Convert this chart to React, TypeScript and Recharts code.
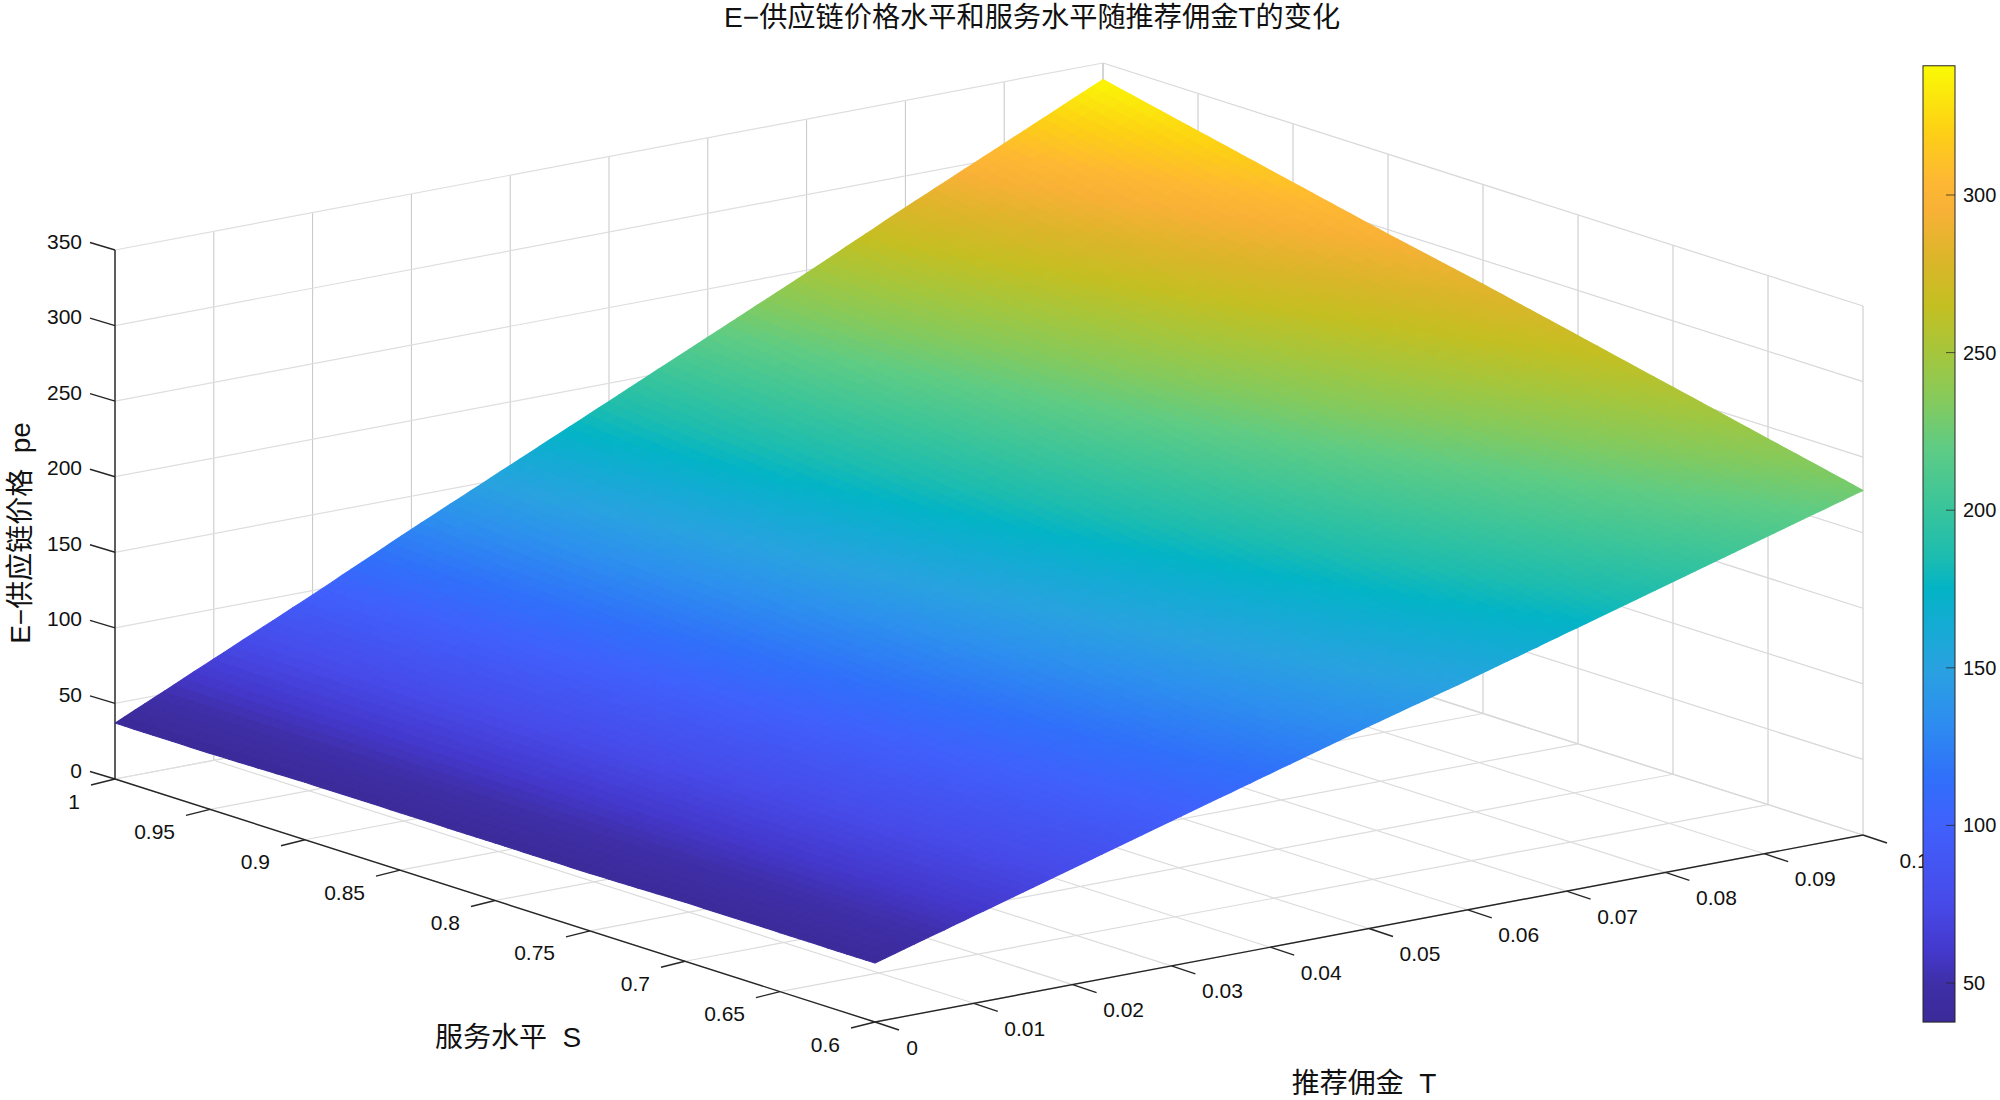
import React from "react";
import { ScatterChart, Scatter, XAxis, YAxis } from "recharts";

const tValues = [0, 0.01, 0.02, 0.03, 0.04, 0.05, 0.06, 0.07, 0.08, 0.09, 0.1];
const sValues = [0.6, 0.65, 0.7, 0.75, 0.8, 0.85, 0.9, 0.95, 1];
const zValues = [0, 50, 100, 150, 200, 250, 300, 350];
const tLabels = ["0", "0.01", "0.02", "0.03", "0.04", "0.05", "0.06", "0.07", "0.08", "0.09", "0.1"];
const sLabels = ["0.6", "0.65", "0.7", "0.75", "0.8", "0.85", "0.9", "0.95", "1"];
const barTicks = [50, 100, 150, 200, 250, 300];

// pe, one row per S, one column per T
const peS060 = [39, 58, 77, 96, 115, 134, 152, 171, 190, 209, 228];
const peS065 = [39, 59, 79, 100, 120, 140, 161, 181, 201, 222, 242];
const peS070 = [39, 60, 82, 104, 125, 147, 169, 191, 212, 234, 256];
const peS075 = [38, 61, 84, 108, 131, 154, 177, 200, 224, 247, 270];
const peS080 = [38, 63, 87, 112, 136, 161, 186, 210, 235, 259, 284];
const peS085 = [38, 64, 90, 116, 142, 168, 194, 220, 246, 271, 297];
const peS090 = [38, 65, 92, 120, 147, 175, 202, 229, 256, 284, 311];
const peS095 = [37, 66, 95, 123, 152, 181, 210, 239, 267, 296, 325];
const peS100 = [37, 67, 97, 128, 158, 188, 218, 248, 279, 309, 339];
const peRows = [peS060, peS065, peS070, peS075, peS080, peS085, peS090, peS095, peS100];

const climMin = 37.6;
const climMax = 341;

const mapValues = [37.6, 50, 60, 75, 100, 115, 135, 150, 165, 175, 185, 200, 220, 235, 250, 265, 280, 295, 305, 320, 341];
const mapColors = [
  "#3b2a98", "#3f2fa8", "#4438cc", "#474ae8", "#4060fc", "#3070fa", "#2d90ee", "#29a2e0", "#12acd2", "#03b4c6",
  "#1cbcb0", "#38c49c", "#5fcc84", "#85ca5c", "#a5c63c", "#c4bf22", "#dcb52a", "#f8b136", "#feb833", "#fdd015", "#fafa05",
];

const FONT = '"Liberation Sans", "Noto Sans CJK SC", sans-serif';
const AXIS = "#262626";

// fixed orthographic view of the MATLAB box, in chart units
const project = (t: number, s: number, z: number) => ({
  x: 875 + (t / 0.1) * 988 - ((s - 0.6) / 0.4) * 760,
  y: 1022 - (t / 0.1) * 187 - ((s - 0.6) / 0.4) * 243 - (z / 350) * 529,
});

const hex = (c: string) => [1, 3, 5].map((i) => parseInt(c.slice(i, i + 2), 16));

function colorOf(v: number) {
  let i = 0;
  while (i < mapValues.length - 2 && v > mapValues[i + 1]) i++;
  const f = Math.min(1, Math.max(0, (v - mapValues[i]) / (mapValues[i + 1] - mapValues[i])));
  const a = hex(mapColors[i]);
  const b = hex(mapColors[i + 1]);
  return `rgb(${a.map((n, k) => Math.round(n + (b[k] - n) * f)).join(",")})`;
}

const tMin = tValues[0];
const tMax = tValues[tValues.length - 1];
const sMin = sValues[0];
const sMax = sValues[sValues.length - 1];
const zTop = zValues[zValues.length - 1];

const gridSegments = [
  // floor
  ...tValues.map((t) => [project(t, sMin, 0), project(t, sMax, 0), "#dcdcdc", 1.2]),
  ...sValues.map((s) => [project(tMin, s, 0), project(tMax, s, 0), "#dcdcdc", 1.2]),
  // wall behind, at S = 1
  ...tValues.map((t) => [project(t, sMax, 0), project(t, sMax, zTop), "#c6c6c6", 1]),
  ...zValues.map((z) => [project(tMin, sMax, z), project(tMax, sMax, z), "#dedede", 1.2]),
  // wall behind, at T = 0.1
  ...sValues.map((s) => [project(tMax, s, 0), project(tMax, s, zTop), "#c6c6c6", 1]),
  ...zValues.map((z) => [project(tMax, sMin, z), project(tMax, sMax, z), "#d8d8d8", 1.2]),
] as [{ x: number; y: number }, { x: number; y: number }, string, number][];

const axisSegments = [
  [project(tMin, sMax, 0), project(tMin, sMax, zTop)],
  [project(tMin, sMin, 0), project(tMin, sMax, 0)],
  [project(tMin, sMin, 0), project(tMax, sMin, 0)],
  ...zValues.map((z) => {
    const p = project(tMin, sMax, z);
    return [p, { x: p.x - 25, y: p.y - 7.5 }];
  }),
  ...sValues.map((s) => {
    const p = project(tMin, s, 0);
    return [p, { x: p.x - 24, y: p.y + 6 }];
  }),
  ...tValues.map((t) => {
    const p = project(t, sMin, 0);
    return [p, { x: p.x + 24, y: p.y + 8 }];
  }),
];

const cells: { x: number; y: number; i: number; j: number }[] = [];
for (let j = 0; j < sValues.length - 1; j++) {
  for (let i = 0; i < tValues.length - 1; i++) {
    const p = project(tValues[i], sValues[j], peRows[j][i]);
    cells.push({ x: p.x, y: p.y, i, j });
  }
}

const SUB = 10;

// interp shading: one facet of the table, painted in small steps
function SurfaceCell(props: any) {
  const { cx, cy, payload } = props;
  const { i, j } = payload;
  const dx = cx - payload.x;
  const dy = cy - payload.y;
  const z00 = peRows[j][i];
  const z10 = peRows[j][i + 1];
  const z01 = peRows[j + 1][i];
  const z11 = peRows[j + 1][i + 1];
  const at = (u: number, v: number) => {
    const t = tValues[i] + (tValues[i + 1] - tValues[i]) * u;
    const s = sValues[j] + (sValues[j + 1] - sValues[j]) * v;
    const z = z00 * (1 - u) * (1 - v) + z10 * u * (1 - v) + z01 * (1 - u) * v + z11 * u * v;
    const p = project(t, s, z);
    return { x: p.x + dx, y: p.y + dy, z };
  };
  const out = [];
  for (let a = 0; a < SUB; a++) {
    for (let b = 0; b < SUB; b++) {
      const c = [at(a / SUB, b / SUB), at((a + 1) / SUB, b / SUB), at((a + 1) / SUB, (b + 1) / SUB), at(a / SUB, (b + 1) / SUB)];
      const col = colorOf((c[0].z + c[1].z + c[2].z + c[3].z) / 4);
      out.push(
        <polygon
          key={`${a}-${b}`}
          points={c.map((p) => `${p.x.toFixed(1)},${p.y.toFixed(1)}`).join(" ")}
          fill={col}
          stroke={col}
          strokeWidth={1.1}
          strokeLinejoin="round"
        />
      );
    }
  }
  return <g>{out}</g>;
}

const Blank = () => <g />;

function Label(props: any) {
  const { cx, cy, payload } = props;
  const { text, anchor, size, rotate } = payload;
  return (
    <text
      x={cx}
      y={cy}
      textAnchor={anchor || "middle"}
      dominantBaseline="central"
      fontFamily={FONT}
      fontSize={size || 21}
      fill="#111"
      transform={rotate ? `rotate(${rotate} ${cx} ${cy})` : undefined}
    >
      {text}
    </text>
  );
}

const tickLabels = [
  ...zValues.map((z) => {
    const p = project(tMin, sMax, z);
    return { x: p.x - 33, y: p.y - 9, text: String(z), anchor: "end" };
  }),
  ...sValues.map((s, k) => {
    const p = project(tMin, s, 0);
    return { x: p.x - 35, y: p.y + 22, text: sLabels[k], anchor: "end" };
  }),
  ...tValues.map((t, k) => {
    const p = project(t, sMin, 0);
    return { x: p.x + (k === 0 ? 37 : 51), y: p.y + 25, text: tLabels[k] };
  }),
];

const titles = [
  { x: 1032, y: 17, text: "E−供应链价格水平和服务水平随推荐佣金T的变化", size: 28.2 },
  { x: 20, y: 533, text: "E−供应链价格\u00a0\u00a0pe", size: 28, rotate: -90 },
  { x: 508, y: 1037, text: "服务水平\u00a0\u00a0S", size: 28 },
  { x: 1364, y: 1083, text: "推荐佣金\u00a0\u00a0T", size: 28 },
];

const barLeft = 1923;
const barRight = 1955;
const barY = (v: number) => 983 - ((v - 50) * 788) / 250;
const barTop = barY(climMax);
const barBottom = barY(climMin);

function ColorBar(props: any) {
  const { cx, cy } = props;
  const w = barRight - barLeft;
  const h = barBottom - barTop;
  return (
    <g>
      <defs>
        <linearGradient id="parula" x1="0" y1="1" x2="0" y2="0">
          {mapValues.map((v, i) => (
            <stop key={v} offset={(v - climMin) / (climMax - climMin)} stopColor={mapColors[i]} />
          ))}
        </linearGradient>
      </defs>
      <rect x={cx} y={cy} width={w} height={h} fill="url(#parula)" stroke="#262626" strokeWidth={1} />
      {barTicks.map((v) => (
        <line
          key={v}
          x1={cx + w - 9}
          x2={cx + w}
          y1={cy + barY(v) - barTop}
          y2={cy + barY(v) - barTop}
          stroke="#262626"
          strokeOpacity={0.75}
        />
      ))}
    </g>
  );
}

const barLabels = barTicks.map((v) => ({ x: 1963, y: barY(v), text: String(v), anchor: "start", size: 20 }));

export default function App() {
  return (
    <div style={{ position: "absolute", left: 0, top: 0, width: 2000, height: 1100, background: "#fff" }}>
      <ScatterChart width={2000} height={1100} margin={{ top: 0, right: 0, bottom: 0, left: 0 }}>
        <XAxis type="number" dataKey="x" domain={[0, 2000]} hide />
        <YAxis type="number" dataKey="y" domain={[0, 1100]} reversed hide />
        {gridSegments.map(([a, b, color, width], k) => (
          <Scatter
            key={`grid-${k}`}
            data={[a, b]}
            line={{ stroke: color, strokeWidth: width }}
            shape={Blank}
            isAnimationActive={false}
          />
        ))}
        {axisSegments.map(([a, b], k) => (
          <Scatter
            key={`axis-${k}`}
            data={[a, b]}
            line={{ stroke: AXIS, strokeWidth: 1.4 }}
            shape={Blank}
            isAnimationActive={false}
          />
        ))}
        <Scatter data={cells} shape={SurfaceCell} isAnimationActive={false} />
        <Scatter data={tickLabels} shape={Label} isAnimationActive={false} />
        <Scatter data={titles} shape={Label} isAnimationActive={false} />
        <Scatter data={[{ x: barLeft, y: barTop }]} shape={ColorBar} isAnimationActive={false} />
        <Scatter data={barLabels} shape={Label} isAnimationActive={false} />
      </ScatterChart>
    </div>
  );
}
